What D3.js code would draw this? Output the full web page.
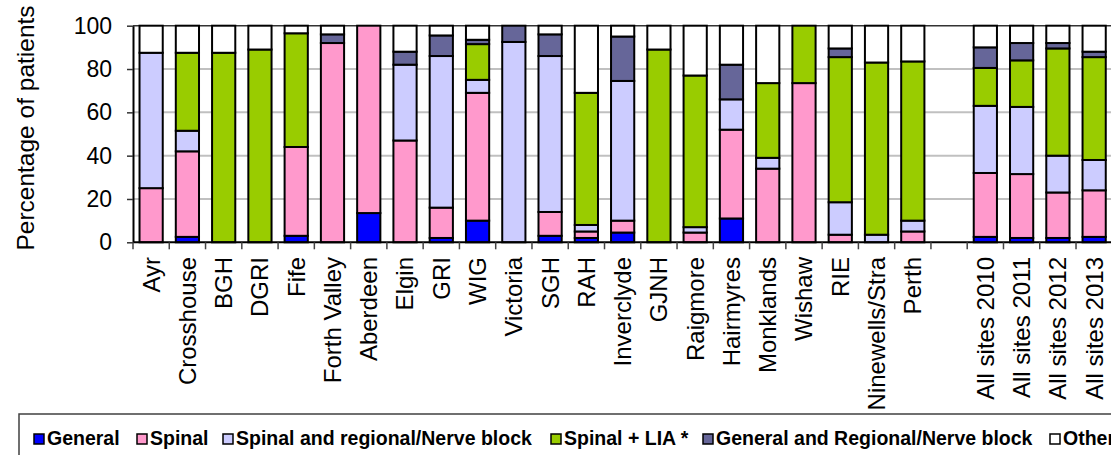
<!DOCTYPE html>
<html>
<head>
<meta charset="utf-8">
<script src="https://cdn.jsdelivr.net/npm/d3@7"></script>
<style>
  html, body { margin: 0; padding: 0; background: #fff; overflow: hidden; }
  svg { display: block; font-family: "Liberation Sans", Arial, sans-serif; }
</style>
</head>
<body>
<svg id="chart" width="1111" height="455"></svg>
<script>
const categories = ["Ayr","Crosshouse","BGH","DGRI","Fife","Forth Valley","Aberdeen","Elgin","GRI","WIG","Victoria","SGH","RAH","Inverclyde","GJNH","Raigmore","Hairmyres","Monklands","Wishaw","RIE","Ninewells/Stra","Perth","","All sites 2010","All sites 2011","All sites 2012","All sites 2013"];

const general = [0, 2.5, 0, 0, 3, 0, 13.5, 0, 2, 10, 0, 3, 2, 4.5, 0, 0, 11, 0, 0, 0, 0, 0, 0, 2.5, 2, 2, 2.5];
const spinal  = [25, 39.5, 0, 0, 41, 92, 86.5, 47, 14, 59, 0, 11, 3, 5.5, 0, 4.5, 41, 34, 73.5, 3.5, 0, 5, 0, 29.5, 29.5, 21, 21.5];
const spinalRegional = [62.5, 9.5, 0, 0, 0, 0, 0, 35, 70, 6, 92.5, 72, 3, 64.5, 0, 2.5, 14, 5, 0, 15, 3.5, 5, 0, 31, 31, 17, 14];
const spinalLIA = [0, 36, 87.5, 89, 52.5, 0, 0, 0, 0, 16.5, 0, 0, 61, 0, 89, 70, 0, 34.5, 26.5, 67, 79.5, 73.5, 0, 17.5, 21.5, 49.5, 47.5];
const generalRegional = [0, 0, 0, 0, 0, 4, 0, 6, 9.5, 2, 7.5, 10, 0, 20.5, 0, 0, 16, 0, 0, 4, 0, 0, 0, 9.5, 8, 2.5, 2.5];
const other = [12.5, 12.5, 12.5, 11, 3.5, 4, 0, 12, 4.5, 6.5, 0, 4, 31, 5, 11, 23, 18, 26.5, 0, 10.5, 17, 16.5, 0, 10, 8, 8, 12];

const seriesNames = ["General","Spinal","Spinal and regional/Nerve block","Spinal + LIA *","General and Regional/Nerve block","Other"];
const seriesColors = ["#0000FF","#FF99CC","#CCCCFF","#99CC00","#666699","#FFFFFF"];
const yTicks = [0, 20, 40, 60, 80, 100];
const yTitle = "Percentage of patients";

const seriesValues = [general, spinal, spinalRegional, spinalLIA, generalRegional, other];
const keys = seriesNames;
const table = categories.map((c, i) => {
  const row = { idx: i, cat: c };
  keys.forEach((k, j) => row[k] = seriesValues[j][i]);
  return row;
});

const svg = d3.select("#chart");
const plotLeft = 133, step = 36.27, plotTop = 25.7, plotBottom = 242.3;
const plotRight = plotLeft + step * categories.length;

const x = d3.scaleBand().domain(d3.range(categories.length)).range([plotLeft, plotRight]).paddingInner(0.36).paddingOuter(0.18);
const y = d3.scaleLinear().domain([0, 100]).range([plotBottom, plotTop]);

// gridlines
svg.append("g").selectAll("line").data(yTicks.filter(t => t > 0 && t < 100)).join("line")
  .attr("x1", plotLeft).attr("x2", plotRight).attr("y1", d => y(d)).attr("y2", d => y(d))
  .attr("stroke", "#c0c0c0").attr("stroke-width", 2);

// top border
svg.append("line").attr("x1", plotLeft).attr("x2", plotRight).attr("y1", y(100)).attr("y2", y(100))
  .attr("stroke", "#333").attr("stroke-width", 1.6);

// bars
const stacked = d3.stack().keys(keys)(table);
svg.append("g").selectAll("g").data(stacked).join("g")
  .attr("fill", (d, i) => seriesColors[i])
  .selectAll("rect").data(d => d.filter(s => s[1] - s[0] > 0)).join("rect")
  .attr("x", d => x(d.data.idx))
  .attr("width", x.bandwidth())
  .attr("y", d => y(d[1]))
  .attr("height", d => y(d[0]) - y(d[1]))
  .attr("stroke", "#000").attr("stroke-width", 2);

// y axis
const yAxis = svg.append("g").attr("transform", `translate(${plotLeft},0)`)
  .call(d3.axisLeft(y).tickValues(yTicks).tickSize(6).tickPadding(15).tickSizeOuter(0));
yAxis.select(".domain").attr("stroke", "#000").attr("stroke-width", 2);
yAxis.selectAll(".tick line").attr("stroke", "#333").attr("stroke-width", 1.5);
yAxis.selectAll(".tick text").attr("font-size", "23px").attr("fill", "#000")
  .attr("font-family", "'Liberation Sans', Arial, sans-serif");

// x axis
const xAxisG = svg.append("g");
xAxisG.append("line").attr("x1", plotLeft).attr("x2", plotRight).attr("y1", plotBottom).attr("y2", plotBottom)
  .attr("stroke", "#000").attr("stroke-width", 2);
xAxisG.selectAll("line.tk").data(d3.range(categories.length)).join("line").attr("class", "tk")
  .attr("x1", d => x(d) - x.step() * x.paddingOuter()).attr("x2", d => x(d) - x.step() * x.paddingOuter())
  .attr("y1", plotBottom).attr("y2", plotBottom + 7)
  .attr("stroke", "#444").attr("stroke-width", 1.5);
xAxisG.selectAll("text").data(table).join("text")
  .attr("transform", d => `translate(${x(d.idx) + x.bandwidth() / 2},257) rotate(-90)`)
  .attr("text-anchor", "end").attr("dy", "0.35em")
  .attr("font-size", "24px").attr("fill", "#000")
  .text(d => d.cat);

// y title
svg.append("text").attr("transform", "translate(34,128) rotate(-90)")
  .attr("text-anchor", "middle").attr("font-size", "24.5px").attr("fill", "#000")
  .text(yTitle);

// legend
const legend = svg.append("g");
legend.append("rect").attr("x", 19).attr("y", 414).attr("width", 1200).attr("height", 80)
  .attr("fill", "none").attr("stroke", "#404040").attr("stroke-width", 1.5);
const legendX = [34, 137, 223, 551, 703, 1050];
const li = legend.selectAll("g.item").data(seriesNames).join("g").attr("class", "item")
  .attr("transform", (d, i) => `translate(${legendX[i]},434)`);
li.append("rect").attr("width", 10).attr("height", 10)
  .attr("fill", (d, i) => seriesColors[i]).attr("stroke", "#000").attr("stroke-width", 1.5);
li.append("text").attr("x", 13).attr("y", 10.5).attr("font-size", "19.5px").attr("font-weight", "bold")
  .attr("fill", "#000").text(d => d);
</script>
</body>
</html>
